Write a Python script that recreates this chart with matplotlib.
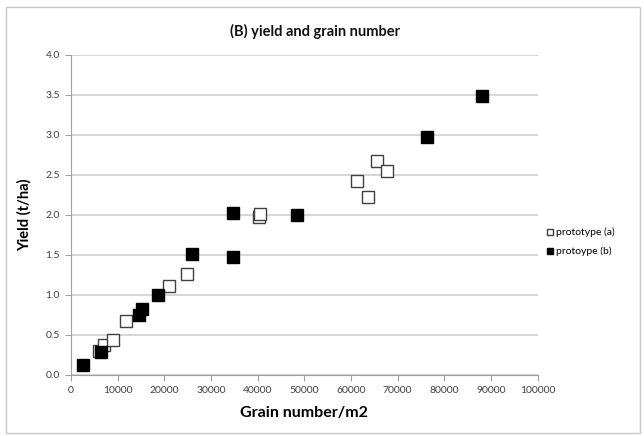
import matplotlib.pyplot as plt
from matplotlib.patches import Rectangle

plt.rcParams['font.family'] = ['Lato', 'DejaVu Sans']

# prototype (a) - open squares
grain_a = [6100, 7200, 9100, 11800, 21100, 24900, 40200, 40600, 61300, 63600, 65600, 67700]
yield_a = [0.30, 0.375, 0.44, 0.67, 1.11, 1.26, 1.98, 2.01, 2.42, 2.23, 2.68, 2.55]

# protoype (b) - filled squares
grain_b = [2600, 6400, 14700, 15200, 18600, 25900, 34700, 34800, 48500, 76300, 88100]
yield_b = [0.13, 0.29, 0.75, 0.82, 1.00, 1.51, 1.47, 2.03, 2.00, 2.98, 3.49]

fig = plt.figure(figsize=(6.44, 4.36), dpi=100)
ax = fig.add_axes([0.110, 0.140, 0.725, 0.734])

ax.plot(grain_a, yield_a, 's', markersize=8.5, markerfacecolor='white',
        markeredgecolor='#404040', markeredgewidth=1.0, label='prototype (a)', zorder=3)
ax.plot(grain_b, yield_b, 's', markersize=8.5, markerfacecolor='black',
        markeredgecolor='black', label='protoype (b)', zorder=3)

ax.set_xlim(0, 100000)
ax.set_ylim(0, 4.0)
ax.set_xticks(range(0, 100001, 10000))
ax.set_xticklabels([str(v) for v in range(0, 100001, 10000)])
ax.set_yticks([i * 0.5 for i in range(9)])
ax.set_yticklabels(['%.1f' % (i * 0.5) for i in range(9)])
ax.yaxis.grid(True, color='#d0d0d0', linewidth=1.2)
ax.set_axisbelow(True)

for s in ['top', 'right']:
    ax.spines[s].set_visible(False)
for s in ['left', 'bottom']:
    ax.spines[s].set_color('#a0a0a0')
ax.tick_params(direction='out', length=4, color='#a0a0a0', labelsize=7.5,
               labelcolor='#404040', pad=4)

ax.set_xlabel('Grain number/m2', fontsize=11.5, fontweight='bold', labelpad=8)
ax.set_ylabel('Yield (t/ha)', fontsize=10.5, fontweight='bold', labelpad=10)
fig.text(0.49, 0.927, '(B) yield and grain number', ha='center', va='center',
         fontsize=10.5, fontweight='bold', color='#111111')

fig.legend(loc='center left', bbox_to_anchor=(0.832, 0.445), frameon=False,
           fontsize=7.5, markerscale=0.55, handletextpad=0.05, labelspacing=0.9,
           handlelength=1.0)

fig.patches.append(Rectangle((0.009, 0.007), 0.985, 0.978, transform=fig.transFigure,
                             fill=False, edgecolor='#c8c8c8', linewidth=1.0))

fig.savefig('out.png', dpi=100)
